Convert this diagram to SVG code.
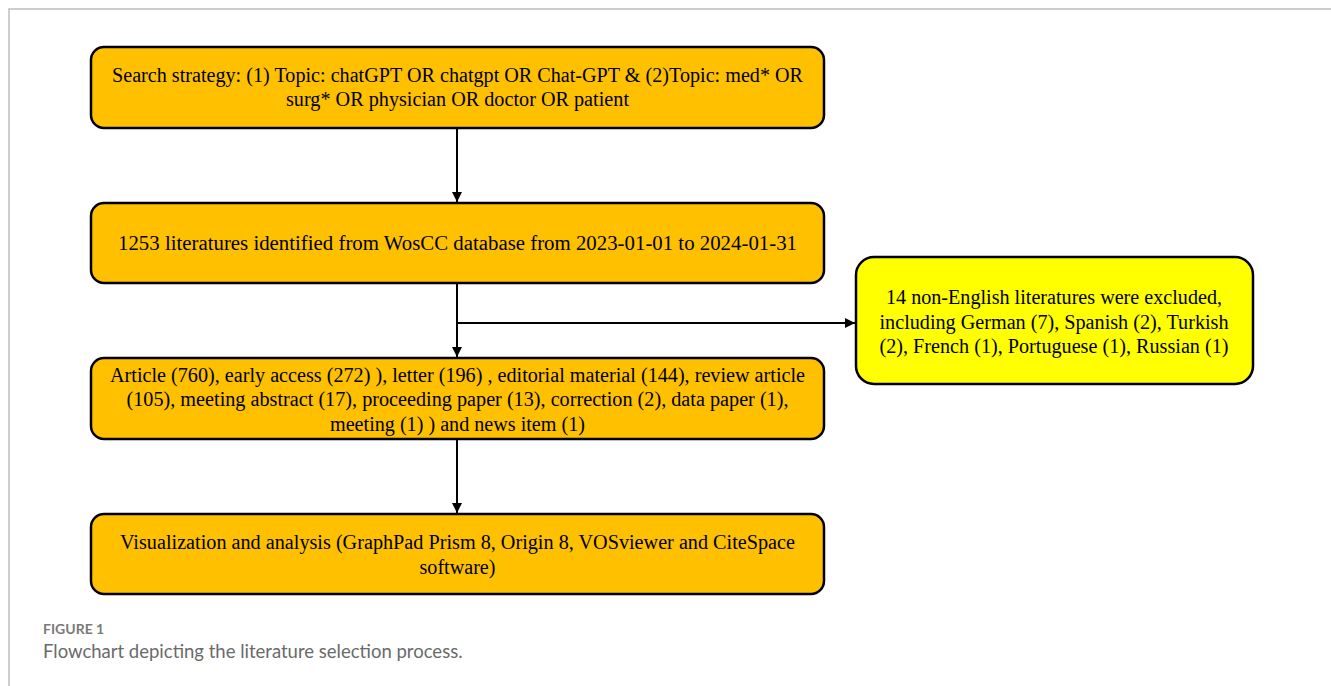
<svg xmlns="http://www.w3.org/2000/svg" width="1331" height="686" viewBox="0 0 1331 686">
<style>
.box{fill:#FFC000;stroke:#000;stroke-width:2.5}
.ybox{fill:#FFFF00;stroke:#000;stroke-width:2.5}
.t{font-family:"Liberation Serif","Times New Roman",serif;font-size:20px;fill:#000;text-anchor:middle}
.c{stroke:#000;stroke-width:2;fill:none}
.cap1{font-family:Lato,"Open Sans",sans-serif;font-size:14px;font-weight:bold;fill:#7a7a7a}
.cap2{font-family:Lato,"Open Sans",sans-serif;font-size:18.5px;fill:#6a6a6a}
</style>
<defs>
<marker id="ah" viewBox="0 0 10 10" refX="10" refY="5" markerWidth="5" markerHeight="5" orient="auto" markerUnits="strokeWidth">
<path d="M0,0 L10,5 L0,10 z" fill="#000"/>
</marker>
</defs>
<rect width="1331" height="686" fill="#fff"/>
<path d="M9,686 L9,9 L1331,9" stroke="#bdbdbd" stroke-width="1.5" fill="none"/>

<g id="connectors">
<line class="c" x1="457" y1="129" x2="457" y2="202" marker-end="url(#ah)"/>
<line class="c" x1="457" y1="284" x2="457" y2="357" marker-end="url(#ah)"/>
<line class="c" x1="457" y1="323" x2="855" y2="323" marker-end="url(#ah)"/>
<line class="c" x1="457" y1="440" x2="457" y2="513" marker-end="url(#ah)"/>
</g>

<g id="node-search">
<rect class="box" x="91" y="47" width="733" height="81" rx="13"/>
<text class="t" x="457.5" y="82" textLength="691" lengthAdjust="spacingAndGlyphs">Search strategy: (1) Topic: chatGPT OR chatgpt OR Chat-GPT &amp; (2)Topic: med* OR</text>
<text class="t" x="457.5" y="106" textLength="343" lengthAdjust="spacingAndGlyphs">surg* OR physician OR doctor OR patient</text>
</g>

<g id="node-identified">
<rect class="box" x="91" y="203" width="733" height="80" rx="13"/>
<text class="t" x="457.5" y="250" textLength="679" lengthAdjust="spacingAndGlyphs">1253 literatures identified from WosCC database from 2023-01-01 to 2024-01-31</text>
</g>

<g id="node-types">
<rect class="box" x="91" y="358" width="733" height="81" rx="13"/>
<text class="t" x="457.5" y="382" textLength="695" lengthAdjust="spacingAndGlyphs">Article (760), early access (272) ), letter (196) , editorial material (144), review article</text>
<text class="t" x="457.5" y="406" textLength="662" lengthAdjust="spacingAndGlyphs">(105), meeting abstract (17), proceeding paper (13), correction (2), data paper (1),</text>
<text class="t" x="457.5" y="431" textLength="255" lengthAdjust="spacingAndGlyphs">meeting (1) ) and news item (1)</text>
</g>

<g id="node-visualization">
<rect class="box" x="91" y="514" width="733" height="80" rx="13"/>
<text class="t" x="457.5" y="549" textLength="675" lengthAdjust="spacingAndGlyphs">Visualization and analysis (GraphPad Prism 8, Origin 8, VOSviewer and CiteSpace</text>
<text class="t" x="457.5" y="574" textLength="76" lengthAdjust="spacingAndGlyphs">software)</text>
</g>

<g id="node-excluded">
<rect class="ybox" x="856" y="257" width="397" height="127" rx="18"/>
<text class="t" x="1054" y="304" textLength="336" lengthAdjust="spacingAndGlyphs">14 non-English literatures were excluded,</text>
<text class="t" x="1054" y="329" textLength="349" lengthAdjust="spacingAndGlyphs">including German (7), Spanish (2), Turkish</text>
<text class="t" x="1054" y="353" textLength="349" lengthAdjust="spacingAndGlyphs">(2), French (1), Portuguese (1), Russian (1)</text>
</g>

<text class="cap1" x="43" y="634">FIGURE 1</text>
<text class="cap2" x="43" y="658">Flowchart depicting the literature selection process.</text>
</svg>
